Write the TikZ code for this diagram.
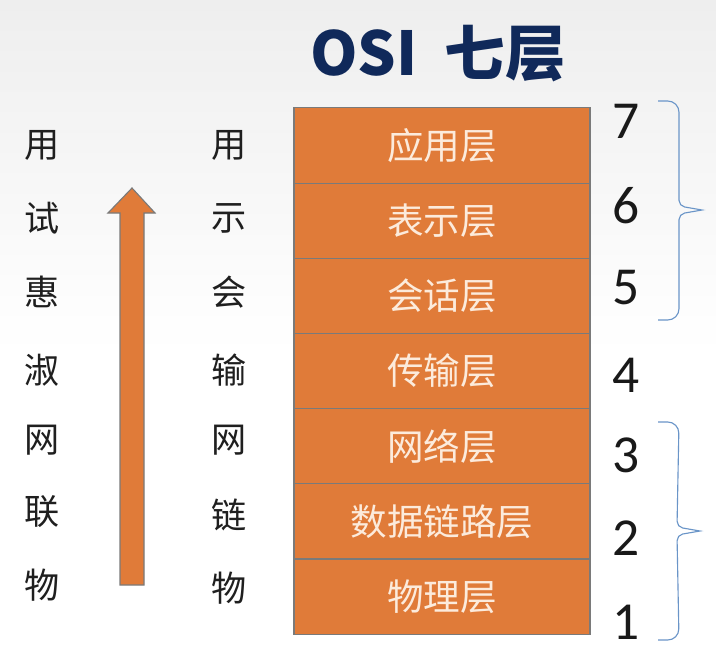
\documentclass[tikz,border=0pt]{standalone}
\usepackage{fontspec}
\setmainfont{Carlito}
\newfontfamily\cjk{Noto Sans CJK SC}
\usetikzlibrary{positioning, calc}
\definecolor{layerfill}{HTML}{E07B39}
\definecolor{layerline}{HTML}{7A7A7A}
\definecolor{layertext}{HTML}{FCEBDC}
\definecolor{titleblue}{HTML}{10295A}
\definecolor{bracecol}{HTML}{6A95C8}
\definecolor{bgtop}{HTML}{EEEEEE}

\begin{document}
\begin{tikzpicture}[
    x=0.025cm, y=-0.025cm,
    layer/.style={rectangle, draw=layerline, fill=layerfill, line width=0.8pt, outer sep=0pt, inner sep=0pt,
      minimum width=7.4cm, minimum height=1.879cm, text=layertext, font=\cjk\fontsize{26}{26}\selectfont},
    word/.style={font=\cjk\fontsize{25}{25}\selectfont, text=black!88},
    num/.style={font=\fontsize{38}{38}\selectfont, text=black!90},
    group/.style={draw=bracecol, line width=0.8pt},
]

% background
\shade[top color=bgtop, bottom color=white, middle color=white!97!bgtop] (0,0) rectangle (716,671);
\useasboundingbox (0,0) rectangle (716,671);

% title
\node[font=\cjk\bfseries\fontsize{43}{43}\selectfont, text=titleblue] (title) at (438,54) {OSI\hspace{0.45em}七层};

% the seven layers
\node[layer] (l7) at (442,145.5) {应用层};
\node[layer, below=0pt of l7] (l6) {表示层};
\node[layer, below=0pt of l6] (l5) {会话层};
\node[layer, below=0pt of l5] (l4) {传输层};
\node[layer, below=0pt of l4] (l3) {网络层};
\node[layer, below=0pt of l3] (l2) {数据链路层};
\node[layer, below=0pt of l2] (l1) {物理层};

% layer numbers
\foreach \n/\y in {7/121, 6/206, 5/288, 4/375, 3/455, 2/538, 1/622}
  \node[num] (n\n) at (626,\y) {\n};

% brackets
\coordinate (upper-top) at (658,101);
\coordinate (upper-tip) at (702,210);
\coordinate (upper-bottom) at (658,320);
\coordinate (lower-top) at (658,422);
\coordinate (lower-tip) at (700,531);
\coordinate (lower-bottom) at (658,640);
\foreach \g in {upper, lower}
  \draw[group] (\g-top) [rounded corners=8] -- ++(21,0) [rounded corners=4]
    -- ($(\g-tip) + (-23,-4)$) [sharp corners] -- (\g-tip)
    [rounded corners=4] -- ($(\g-tip) + (-23,4)$)
    [rounded corners=8] -- ($(\g-bottom) + (21,0)$) [sharp corners] -- (\g-bottom);

% mnemonic columns
\foreach \c/\y [count=\i] in {用/145, 试/218, 惠/292, 淑/370, 网/440, 联/512, 物/585}
  \node[word] (a\i) at (42,\y) {\c};
\foreach \c/\y [count=\i] in {用/145, 示/218, 会/292, 输/370, 网/440, 链/515, 物/588}
  \node[word] (b\i) at (229,\y) {\c};

% upward arrow
\filldraw[fill=layerfill, draw=layerline, line width=0.8pt]
  (120,585) -- (120,213) -- (108,213) -- (132,188) -- (155,213) -- (144,213) -- (144,585) -- cycle;

\end{tikzpicture}
\end{document}
